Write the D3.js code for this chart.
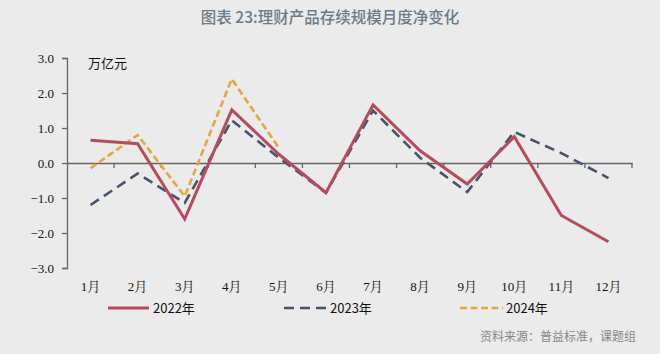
<!DOCTYPE html>
<html>
<head>
<meta charset="utf-8">
<script src="https://cdn.jsdelivr.net/npm/d3@7"></script>
<style>
  body { margin: 0; background: #ebebeb; }
  svg { display: block; }
</style>
</head>
<body>
<div id="chart"></div>
<script>
// data
var months = ["1月", "2月", "3月", "4月", "5月", "6月", "7月", "8月", "9月", "10月", "11月", "12月"];
var y2022 = [0.65, 0.55, -1.6, 1.52, 0.25, -0.85, 1.66, 0.35, -0.6, 0.75, -1.5, -2.25];
var y2023 = [-1.2, -0.3, -1.14, 1.22, 0.15, -0.85, 1.5, 0.15, -0.83, 0.89, 0.28, -0.43];
var y2024 = [-0.15, 0.8, -0.95, 2.4, 0.43];
var yTicks = [3, 2, 1, 0, -1, -2, -3];

var W = 660, H = 354;
var margin = {top: 58, right: 28, bottom: 86, left: 67};
var width = W - margin.left - margin.right,
    height = H - margin.top - margin.bottom;

var svg = d3.select("#chart")
    .append("svg")
    .attr("width", W)
    .attr("height", H)
    .style("background", "#ebebeb");

// title
svg.append("text")
    .attr("x", 330)
    .attr("y", 23)
    .attr("text-anchor", "middle")
    .style("font-family", "Noto Sans CJK SC")
    .style("font-size", "15.5px")
    .style("font-weight", "500")
    .style("fill", "#6c7a89")
    .text("图表 23:理财产品存续规模月度净变化");

var g = svg.append("g")
    .attr("transform", "translate(" + margin.left + "," + margin.top + ")");

var x = d3.scaleBand()
    .domain(months)
    .range([0, width]);

var y = d3.scaleLinear()
    .domain([-3, 3])
    .range([height, 0]);

// y axis
var yAxis = g.append("g")
    .call(d3.axisLeft(y).tickValues(yTicks).tickSize(5).tickFormat(d3.format(".1f")));
yAxis.attr("font-family", null);
yAxis.select(".domain").attr("stroke", "#666").attr("stroke-width", 1.3);
yAxis.selectAll(".tick line").attr("stroke", "#666").attr("stroke-width", 1.3);
yAxis.selectAll("text")
    .attr("x", -13)
    .style("font-family", "'Liberation Serif', 'DejaVu Serif', serif")
    .style("font-size", "13px")
    .style("fill", "#111");

// zero line with ticks at the category boundaries
var xAxis = g.append("g")
    .attr("transform", "translate(0," + y(0) + ")")
    .call(d3.axisBottom(x).tickSize(0).tickFormat(""));
xAxis.select(".domain").attr("stroke", "#666").attr("stroke-width", 1.3);
g.append("g")
    .selectAll("line")
    .data(months.slice(1).concat(["end"]))
    .join("line")
    .attr("x1", (d, i) => x.step() * (i + 1))
    .attr("x2", (d, i) => x.step() * (i + 1))
    .attr("y1", y(0))
    .attr("y2", y(0) + 5)
    .attr("stroke", "#666")
    .attr("stroke-width", 1.3);

// month labels at the bottom
g.append("g")
    .selectAll("text")
    .data(months)
    .join("text")
    .attr("x", d => x(d) + x.bandwidth() / 2)
    .attr("y", height + 23)
    .attr("text-anchor", "middle")
    .style("font-family", "'Liberation Serif', 'Noto Serif CJK SC', serif")
    .style("font-size", "13px")
    .style("fill", "#111")
    .text(d => d);

// unit
g.append("text")
    .attr("x", 21)
    .attr("y", 10)
    .style("font-family", "Noto Sans CJK SC")
    .style("font-size", "13px")
    .style("fill", "#111")
    .text("万亿元");

var series = [
    {name: "2022年", values: y2022, color: "#b84a5e", dash: null, width: 3},
    {name: "2023年", values: y2023, color: "#45546a", dash: "10,6", width: 2.6},
    {name: "2024年", values: y2024, color: "#e3a73c", dash: "7,3.5", width: 2.6}
];

var line = d3.line()
    .x((d, i) => x(months[i]) + x.bandwidth() / 2)
    .y(d => y(d));

// draw 2024 first, then 2023, then 2022 on top
g.append("g")
    .selectAll("path")
    .data([series[2], series[1], series[0]])
    .join("path")
    .attr("d", d => line(d.values))
    .attr("fill", "none")
    .attr("stroke", d => d.color)
    .attr("stroke-width", d => d.width)
    .attr("stroke-dasharray", d => d.dash)
    .attr("stroke-linejoin", "miter");

// legend
var legendX = [108, 284, 460];
var leg = svg.append("g")
    .selectAll("g")
    .data(series)
    .join("g")
    .attr("transform", (d, i) => "translate(" + legendX[i] + ",308)");
leg.append("line")
    .attr("x1", 0)
    .attr("x2", (d, i) => i == 2 ? 43 : (i == 1 ? 45 : 41))
    .attr("stroke", d => d.color)
    .attr("stroke-width", d => d.width)
    .attr("stroke-dasharray", d => d.dash);
leg.append("text")
    .attr("x", (d, i) => i == 2 ? 46 : (i == 1 ? 46 : 45))
    .attr("y", 5)
    .style("font-family", "Noto Sans CJK SC")
    .style("font-size", "13px")
    .style("fill", "#111")
    .text(d => d.name);

// source
svg.append("text")
    .attr("x", 636)
    .attr("y", 341)
    .attr("text-anchor", "end")
    .style("font-family", "Noto Sans CJK SC")
    .style("font-size", "12px")
    .style("fill", "#888")
    .text("资料来源：普益标准，课题组");
</script>
</body>
</html>
